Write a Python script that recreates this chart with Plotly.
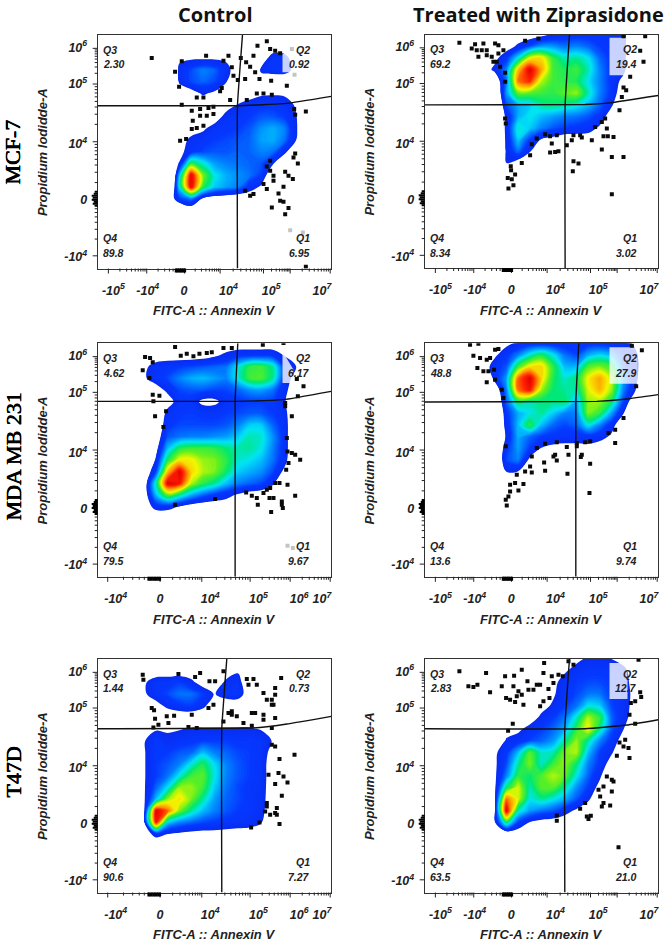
import plotly.graph_objects as go

_ = -10  # density below the plotted floor (outside the cell population)

# Channel scale of every plot: 0-700 on both axes.
grid_x = [105, 140, 175, 210, 245, 280, 315, 350, 385, 420, 455, 490, 525, 560, 595, 630, 665]
grid_y = [700, 665, 630, 595, 560, 525, 490, 455, 420, 385, 350, 315, 280, 245, 210, 175, 140]
E17 = [_] * 17

density_mcf7_control = [
    E17, E17,
    [_,_,_,_,-3,-2,-2,-2,-3,_,_,_,8,6,_,_,_],
    [_,_,_,-30,4,14,22,18,6,_,-30,3,10,10,-8,_,_],
    [_,_,_,-30,2,14,18,14,1,-20,_,-10,-20,-20,-10,_,_],
    [_,_,_,_,_,-8,2,-3,_,_,_,-3,-2,-3,_,_,_],
    [_,_,_,_,_,_,_,_,-8,1,8,10,10,8,-2,_,_],
    [_,_,_,_,_,_,_,-10,6,10,12,16,16,12,1,-20,_],
    [_,_,_,_,_,_,-3,7,10,12,16,24,28,22,2,-20,_],
    [_,_,_,_,_,5,8,12,14,16,18,26,28,20,0,-20,_],
    [_,_,_,_,-5,8,14,16,16,18,18,22,20,5,-20,_,_],
    [_,_,_,_,1,50,38,26,22,20,18,16,2,-20,_,_,_],
    [_,_,_,-60,30,100,58,36,28,24,20,12,-15,_,_,_,_],
    [_,_,_,-50,35,100,50,32,26,22,8,-2,-20,_,_,_,_],
    [_,_,_,-15,12,22,-1,-8,_,-12,-12,_,_,_,_,_,_],
    [_,_,_,_,-20,-12,_,_,_,_,_,_,_,_,_,_,_],
    E17,
]
density_mcf7_treated = [
    [_,_,_,_,_,_,_,-5,1,6,8,8,8,8,6,-20,_],
    [_,_,_,_,-8,3,15,25,25,20,22,18,12,8,6,-20,_],
    [_,_,_,-5,10,35,66,70,50,40,42,35,18,10,6,-20,_],
    [_,_,_,4,22,74,100,78,52,48,52,40,22,10,5,-20,_],
    [_,_,_,-15,20,84,92,62,52,50,48,35,22,10,-5,_,_],
    [_,_,_,-25,25,56,55,52,50,55,60,40,22,10,-12,_,_],
    [_,_,_,-30,15,28,32,42,45,42,38,30,18,3,-20,_,_],
    [_,_,_,-25,4,28,36,30,26,22,20,16,10,-10,_,_,_],
    [_,_,_,-30,5,38,32,22,16,12,10,8,-3,-20,_,_,_],
    [_,_,_,-25,3,32,12,-1,-5,_,_,_,_,_,_,_,_],
    [_,_,_,-25,2,20,1,_,_,_,_,_,_,_,_,_,_],
    [_,_,_,_,0,-8,_,_,_,_,_,_,_,_,_,_,_],
    E17, E17, E17, E17, E17,
]
density_mda_control = [
    E17,
    [_,_,_,_,_,_,-8,-3,3,8,9,9,8,-1,_,_,_],
    [_,-3,6,10,12,14,16,18,20,35,50,52,42,10,0,_,_],
    [_,-2,8,14,22,28,30,26,22,36,52,54,42,10,-8,_,_],
    [_,_,-8,4,14,16,16,14,14,18,24,26,20,6,-15,_,_],
    [_,_,_,-8,8,8,-4,-4,6,10,12,12,12,2,-20,_,_],
    [_,_,-20,6,10,12,10,10,12,14,16,16,12,6,-20,_,_],
    [_,_,-15,10,14,14,14,14,16,22,32,32,18,8,-20,_,_],
    [_,_,-10,16,20,22,22,24,26,32,40,38,24,8,-20,_,_],
    [_,_,-5,30,48,52,52,50,45,40,42,36,22,8,-20,_,_],
    [_,-30,3,48,68,68,60,58,50,38,35,30,20,6,-20,_,_],
    [_,-15,14,75,100,72,62,58,46,32,28,24,14,-4,_,_,_],
    [_,-10,40,100,95,62,50,42,30,22,18,14,2,-15,_,_,_],
    [_,-10,30,55,42,28,18,10,5,-2,-8,_,_,_,_,_,_],
    [_,-10,6,6,-1,-8,_,_,_,_,_,_,_,_,_,_,_],
    [_,_,-15,-15,_,_,_,_,_,_,_,_,_,_,_,_,_],
    E17,
]
density_mda_treated = [
    [_,_,_,_,-4,3,7,7,7,7,8,8,8,6,5,-2,_],
    [_,_,_,-3,10,22,38,48,36,20,14,28,34,28,14,3,_],
    [_,_,_,8,16,52,70,72,50,30,30,54,58,52,18,4,_],
    [_,_,-30,6,26,85,100,72,48,38,45,68,78,62,26,6,-20],
    [_,_,_,-15,22,84,95,60,45,42,40,65,76,60,22,2,-20],
    [_,_,_,-25,18,46,40,44,44,46,28,60,60,46,14,-15,_],
    [_,_,_,-30,10,28,36,42,32,22,22,58,50,26,1,-20,_],
    [_,_,_,-25,6,30,50,30,18,14,18,36,22,7,-15,_,_],
    [_,_,_,-30,3,28,18,12,10,8,8,8,6,-3,-20,_,_],
    [_,_,_,-25,10,26,12,-1,-5,-6,-6,-5,_,_,_,_,_],
    [_,_,_,-25,14,22,-4,_,_,_,_,_,_,_,_,_,_],
    [_,_,_,_,0,-1,_,_,_,_,_,_,_,_,_,_,_],
    E17, E17, E17, E17, E17,
]
density_t47d_control = [
    E17,
    [_,_,_,_,_,_,_,_,-8,-2,-2,_,_,_,_,_,_],
    [_,-2,8,9,12,4,-8,_,3,7,-15,_,_,_,_,_,_],
    [_,-2,8,14,20,20,12,-1,8,9,-10,_,_,_,_,_,_],
    [_,_,-6,4,10,12,4,_,-12,-12,_,_,_,_,_,_,_],
    [_,-12,-12,-12,-12,-12,-12,-12,-12,-12,-12,-12,_,_,_,_,_],
    [_,_,-2,-2,-1,2,2,2,2,2,2,-1,_,_,_,_,_],
    [_,-1,12,4,8,10,12,12,12,10,10,8,-1,-20,_,_,_],
    [_,-1,12,12,16,18,30,22,18,14,12,8,-6,_,_,_,_],
    [_,-1,12,16,22,36,48,34,22,16,12,8,_,_,_,_,_],
    [_,-1,12,20,36,52,55,36,22,16,12,8,-10,_,_,_,_],
    [_,-1,18,35,60,60,52,32,20,14,10,7,-10,_,_,_,_],
    [_,-1,30,60,70,58,42,26,18,14,10,6,-10,_,_,_,_],
    [_,-1,100,85,58,42,30,22,16,12,10,5,-12,_,_,_,_],
    [_,-1,95,32,22,18,14,12,10,8,6,1,-20,_,_,_,_],
    [_,-6,4,0,-3,-5,-6,-6,-7,-8,-8,_,_,_,_,_,_],
    E17,
]
density_t47d_treated = [
    [_,_,_,_,_,_,_,_,_,_,-4,3,3,0,_,_,_],
    [_,_,_,_,_,_,_,_,_,-2,6,10,10,10,8,-15,_],
    [_,_,_,_,_,_,_,_,-4,6,12,14,14,12,8,-8,_],
    [_,_,_,_,_,_,_,_,-2,8,14,20,20,12,8,-5,_],
    [_,_,_,_,_,_,_,-5,2,12,20,35,32,14,6,-5,_],
    [_,_,_,_,_,_,-8,3,12,20,38,62,50,18,6,-8,_],
    [_,_,_,_,_,-3,5,12,18,28,50,68,42,16,1,-20,_],
    [_,_,_,-30,3,6,14,18,25,42,60,42,22,10,-8,_,_],
    [_,_,_,-3,10,30,55,38,40,58,62,30,12,2,-15,_,_],
    [_,_,_,-3,15,42,58,38,52,60,45,22,10,-8,_,_,_],
    [_,_,_,-3,22,50,46,54,62,56,36,18,3,-20,_,_,_],
    [_,_,_,-3,45,65,40,55,55,42,24,12,-6,_,_,_,_],
    [_,_,_,-3,85,65,36,42,36,28,16,3,-15,_,_,_,_],
    [_,_,_,-2,100,40,26,20,16,6,-3,-12,_,_,_,_,_],
    [_,_,_,-2,45,12,-1,-6,-8,_,_,_,_,_,_,_,_],
    [_,_,_,_,-15,_,_,_,_,_,_,_,_,_,_,_,_],
    E17,
]

pts_mcf7_control_x = [162,232,244,252,252,325,392,377,402,407,420,429,445,457,479,507,467,517,532,547,442,472,485,520,567,372,367,397,317,297,447,477,497,522,589,624,592,282,307,332,347,285,307,327,347,282,297,317,247,265,592,587,600,517,507,517,527,562,572,585,497,507,527,557,542,457,467,442,522,547,557,572,562,624]
pts_mcf7_control_y = [631,590,545,621,491,638,638,623,603,578,565,631,618,605,668,681,638,658,653,645,568,588,568,563,548,541,531,505,513,513,505,525,525,521,478,471,461,473,478,481,485,443,458,458,463,418,421,428,383,388,345,333,315,323,306,293,278,290,278,268,253,238,263,245,225,218,223,233,183,203,200,181,163,5]
pts_mcf7_treated_x = [104,151,176,141,156,171,186,161,186,201,211,221,206,216,221,236,226,241,241,596,661,646,656,616,596,604,591,584,541,531,546,511,536,549,566,501,466,446,361,376,396,336,321,381,376,391,401,426,471,441,531,561,596,316,291,258,259,271,249,261,266,251,446,461,444,561,241,243,301,341]
pts_mcf7_treated_y = [675,671,673,658,653,653,653,633,638,633,673,668,618,618,643,653,603,585,558,695,695,651,618,573,541,533,513,473,448,438,418,423,395,395,393,383,398,398,401,395,398,388,371,373,346,348,350,368,391,383,355,333,333,338,315,305,293,280,270,266,248,238,320,313,290,221,448,433,681,688]
pts_mda_control_x = [142,157,165,135,155,232,249,267,287,305,327,342,377,402,495,557,617,597,600,165,185,167,172,205,197,582,562,562,567,569,582,592,607,572,565,532,545,569,517,592,445,462,477,497,507,527,515,552,552,555,480,520,352,232]
pts_mda_control_y = [659,656,643,619,596,689,663,669,661,669,671,673,686,686,696,701,571,593,541,546,543,526,481,496,449,481,511,521,416,376,371,366,351,341,321,281,281,276,266,243,253,243,236,251,261,236,236,226,216,206,216,194,233,216]
pts_mda_treated_x = [136,161,146,166,186,196,211,221,158,176,191,208,186,211,231,236,621,651,634,596,571,551,571,496,481,456,426,396,361,336,456,386,391,396,431,471,468,496,358,321,316,361,428,301,321,276,271,296,281,256,256,251,243,246,494,243]
pts_mda_treated_y = [696,699,663,656,651,656,681,683,626,616,616,621,583,591,561,536,693,679,571,476,441,431,401,406,403,401,389,403,399,386,391,361,366,349,366,366,359,339,343,361,331,318,309,316,313,306,281,278,259,276,256,241,231,214,251,391]
pts_t47d_control_x = [135,137,242,292,307,335,352,377,447,467,452,477,550,497,507,522,532,527,522,532,162,169,172,207,229,212,282,347,332,402,392,377,402,417,462,472,497,497,532,437,462,522,167,182,297,272,522,532,545,590,512,542,557,569,532,552,507,507,537,502,532,517,537,485,545,460]
pts_t47d_control_y = [653,638,655,646,658,633,633,663,640,640,623,623,643,598,578,578,593,563,563,613,553,546,521,528,530,508,533,563,553,543,538,513,533,528,538,538,533,518,523,508,500,493,495,503,493,496,443,438,400,413,353,358,348,330,325,290,268,258,253,243,238,233,233,210,205,195]
pts_t47d_treated_x = [104,184,131,146,158,196,241,268,291,358,356,381,401,414,231,266,281,291,308,311,326,336,346,371,386,244,256,271,296,276,356,374,346,264,250,446,431,641,646,649,631,618,614,631,601,584,596,611,576,614,546,561,566,536,561,521,526,536,556,531,481,466,486,491,498,396,396,581]
pts_t47d_treated_y = [663,658,618,616,623,600,648,650,668,688,658,648,653,648,618,618,603,593,633,608,608,623,623,610,628,583,578,571,563,588,573,583,558,506,485,683,693,698,600,586,573,568,533,506,458,450,438,433,410,403,348,338,333,318,303,308,288,268,261,258,268,251,228,220,230,231,215,136]

faint_mcf7_control_x = [577, 615, 582, 590]
faint_mcf7_control_y = [115, 108, 658, 581]
faint_mda_control_x = [569, 585, 597]
faint_mda_control_y = [93, 86, 593]

# Events piled on the axes (off-scale values)
pile_x_wide = [234, 238, 242, 246, 250, 254, 258, 262]
pile_x_narrow = [152, 157, 162, 167, 172, 177, 182, 187]
pile_y = [188, 194, 200, 206, 212, 218, 224, 230]
pile_y_px = [3, 5, 4, 6, 5, 6, 4, 3]

# Quadrant gates
gate_h_mcf7_control = ([0, 419, 567, 700], [488, 488, 495, 516])
gate_v_mcf7_control = ([419, 419, 434], [0, 488, 700])
gate_h_mcf7_treated = ([0, 481, 556, 700], [489, 490, 495, 517])
gate_v_mcf7_treated = ([421, 421, 434], [0, 488, 700])
gate_h_mda_control = ([0, 412, 557, 700], [526, 526, 531, 556])
gate_v_mda_control = ([412, 412, 420], [0, 526, 700])
gate_h_mda_treated = ([0, 516, 606, 700], [524, 526, 533, 546])
gate_v_mda_treated = ([453, 453, 462], [0, 524, 700])
gate_h_t47d_control = ([0, 477, 567, 700], [491, 494, 505, 528])
gate_v_t47d_control = ([372, 372, 387], [0, 491, 700])
gate_h_t47d_treated = ([0, 481, 606, 700], [491, 491, 502, 518])
gate_v_t47d_treated = ([420, 420, 434], [0, 491, 700])

# Pale label plates over the Q2 corner
plate_mcf7_control = ([554, 584, 584, 554], [588, 588, 643, 643])
plate_mcf7_treated = ([554, 616, 616, 554], [578, 578, 690, 690])
plate_mda_control = ([554, 580, 587, 554], [581, 581, 621, 676])
plate_mda_treated = ([554, 639, 639, 554], [579, 579, 688, 688])
plate_t47d_control = ([], [])
plate_t47d_treated = ([554, 608, 608, 554], [580, 580, 688, 688])

q3_values = ["2.30", "69.2", "4.62", "48.8", "1.44", "2.83"]
q2_values = ["0.92", "19.4", "6.17", "27.9", "0.73", "12.7"]
q4_values = ["89.8", "8.34", "79.5", "13.6", "90.6", "63.5"]
q1_values = ["6.95", "3.02", "9.67", "9.74", "7.27", "21.0"]

col_titles = ["Control", "Treated with Ziprasidone"]
row_titles = ["MCF-7", "MDA MB 231", "T47D"]

def sup(b):
    return f"<b><i>{b}</i></b>"

x_label_pos_wide = [47, 150, 259, 392, 520, 672]
x_label_txt_wide = ["-10<sup>5</sup>", "-10<sup>4</sup>", "0", "10<sup>4</sup>", "10<sup>5</sup>", "10<sup>7</sup>"]
x_marks_wide = [32, 147, 260, 367, 497, 577, 697]
x_label_pos_narrow = [54, 187, 337, 482, 604, 672]
x_label_txt_narrow = ["-10<sup>4</sup>", "0", "10<sup>4</sup>", "10<sup>5</sup>", "10<sup>6</sup>", "10<sup>7</sup>"]
x_marks_narrow = [30, 187, 312, 457, 577, 697]
y_label_pos = [663, 553, 373, 205, 35]
y_label_txt = ["10<sup>6</sup>", "10<sup>5</sup>", "10<sup>4</sup>", "0", "-10<sup>4</sup>"]
y_marks = [38, 205, 380, 553, 660]
decade_fractions = [0.301, 0.477, 0.602, 0.699, 0.778, 0.845, 0.903, 0.954]

def minor_marks(majors):
    out = []
    for a, b in zip(majors[:-1], majors[1:]):
        out += [a + (b - a) * f for f in decade_fractions]
    return [v for v in out if 0 <= v <= 700]

panels = [
    (density_mcf7_control, pts_mcf7_control_x, pts_mcf7_control_y, gate_h_mcf7_control, gate_v_mcf7_control, plate_mcf7_control, "wide", 97.7, 35.0, faint_mcf7_control_x, faint_mcf7_control_y),
    (density_mcf7_treated, pts_mcf7_treated_x, pts_mcf7_treated_y, gate_h_mcf7_treated, gate_v_mcf7_treated, plate_mcf7_treated, "wide", 424.7, 34.5, [], []),
    (density_mda_control, pts_mda_control_x, pts_mda_control_y, gate_h_mda_control, gate_v_mda_control, plate_mda_control, "narrow", 97.7, 343.3, faint_mda_control_x, faint_mda_control_y),
    (density_mda_treated, pts_mda_treated_x, pts_mda_treated_y, gate_h_mda_treated, gate_v_mda_treated, plate_mda_treated, "wide", 424.7, 343.3, [], []),
    (density_t47d_control, pts_t47d_control_x, pts_t47d_control_y, gate_h_t47d_control, gate_v_t47d_control, plate_t47d_control, "narrow", 97.7, 659.0, [], []),
    (density_t47d_treated, pts_t47d_treated_x, pts_t47d_treated_y, gate_h_t47d_treated, gate_v_t47d_treated, plate_t47d_treated, "wide", 424.7, 659.0, [], []),
]

W, H = 667, 945
PW, PH = 233.5, 233.5

# z -> colour, scale spans -0.5..100.5 on the contour levels
def f(z):
    return (z + 0.5) / 101
flow_scale = [
    [0, "#ffffff"], [f(-0.2), "#ffffff"], [f(0.0), "#0a2cf0"], [f(12), "#0538ff"],
    [f(24), "#0090ff"], [f(35), "#00e4f4"], [f(45), "#00e870"], [f(56), "#60f020"],
    [f(67), "#f4f800"], [f(80), "#ff9800"], [f(92), "#ff2000"], [1, "#e00000"],
]

fig = go.Figure()
layout = dict(
    width=W, height=H, autosize=False, margin=dict(l=0, r=0, t=0, b=0),
    paper_bgcolor="white", plot_bgcolor="white", showlegend=False,
)
annotations = []
shapes = []
BODY = dict(family="Liberation Sans", color="#222222")
INK = "#222222"

for i, (z, px, py, gh, gv, plate, scheme, left, top, fx, fy) in enumerate(panels):
    s = "" if i == 0 else str(i + 1)
    xa, ya = f"x{s}", f"y{s}"
    xd, yd = f"x{s} domain", f"y{s} domain"
    assert all(len(r) == 17 for r in z) and len(z) == 17
    fig.add_trace(go.Contour(
        x=grid_x, y=grid_y[::-1], z=z[::-1], xaxis=xa, yaxis=ya,
        colorscale=flow_scale, showscale=False, autocontour=False, hoverinfo="skip",
        contours=dict(start=0, end=100, size=1, coloring="fill", showlines=False),
        line=dict(width=0, smoothing=1.0),
    ))
    if plate[0]:
        fig.add_trace(go.Scatter(x=plate[0], y=plate[1], xaxis=xa, yaxis=ya, mode="lines",
                                 fill="toself", fillcolor="rgba(255,255,255,0.78)",
                                 line=dict(width=0), hoverinfo="skip"))
    if fx:
        fig.add_trace(go.Scatter(x=fx, y=fy, xaxis=xa, yaxis=ya, mode="markers",
                                 marker=dict(symbol="square", size=4, color="#c4c4c4"), hoverinfo="skip"))
    fig.add_trace(go.Scatter(x=px, y=py, xaxis=xa, yaxis=ya, mode="markers",
                             marker=dict(symbol="square", size=4, color="#0a0a0a"), hoverinfo="skip"))
    for g in (gh, gv):
        fig.add_trace(go.Scatter(x=g[0], y=g[1], xaxis=xa, yaxis=ya, mode="lines",
                                 line=dict(color="#111111", width=1.4, shape="spline", smoothing=0.3),
                                 hoverinfo="skip"))
    lab_pos = x_label_pos_wide if scheme == "wide" else x_label_pos_narrow
    lab_txt = x_label_txt_wide if scheme == "wide" else x_label_txt_narrow
    marks = x_marks_wide if scheme == "wide" else x_marks_narrow
    pile = pile_x_wide if scheme == "wide" else pile_x_narrow

    def xmark(v, px_len, width=1.0, color=INK):
        shapes.append(dict(type="line", xref=xa, yref=yd, x0=v, x1=v, y0=0, y1=-px_len / PH,
                           line=dict(color=color, width=width)))

    def ymark(v, px_len, width=1.0, color=INK):
        shapes.append(dict(type="line", xref=xd, yref=ya, y0=v, y1=v, x0=0, x1=-px_len / PW,
                           line=dict(color=color, width=width)))

    for v in marks:
        xmark(v, 5)
    for v in minor_marks(marks):
        xmark(v, 3)
    for v in y_marks:
        ymark(v, 5)
    for v in minor_marks(y_marks):
        ymark(v, 3)
    for v in pile:
        xmark(v, 4, 2.0, "#000000")
    for v, n in zip(pile_y, pile_y_px):
        ymark(v, n, 2.0, "#000000")

    common = dict(range=[0, 700], showgrid=False, zeroline=False, showline=True, mirror=True,
                  linecolor="#333333", linewidth=1, tickmode="array", ticks="outside",
                  tickcolor="rgba(0,0,0,0)", tickfont=dict(family="Liberation Sans", size=12.5, color=INK),
                  tickangle=0, fixedrange=True)
    layout[f"xaxis{s}"] = dict(common, domain=[left / W, (left + PW) / W], anchor=ya,
                               tickvals=lab_pos, ticktext=[sup(t) for t in lab_txt], ticklen=10)
    layout[f"yaxis{s}"] = dict(common, domain=[1 - (top + PH) / H, 1 - top / H], anchor=xa,
                               tickvals=y_label_pos, ticktext=[sup(t) for t in y_label_txt], ticklen=7)
    for txt, ax, ay, anc in [("Q3", 0.02, 0.937, "left"), (q3_values[i], 0.02, 0.874, "left"),
                             ("Q4", 0.02, 0.13, "left"), (q4_values[i], 0.02, 0.066, "left"),
                             ("Q2", 0.915, 0.937, "right"), (q2_values[i], 0.915, 0.874, "right"),
                             ("Q1", 0.915, 0.13, "right"), (q1_values[i], 0.915, 0.066, "right")]:
        annotations.append(dict(text=f"<b><i>{txt}</i></b>", xref=xd, yref=yd, x=ax, y=ay, xanchor=anc,
                                yanchor="middle", showarrow=False, font=dict(BODY, size=10.5), borderpad=0))
    annotations.append(dict(text="<b><i>FITC-A :: Annexin V</i></b>", xref=xd, yref=yd, x=0.5, y=-0.181,
                            xanchor="center", yanchor="middle", showarrow=False, font=dict(BODY, size=13)))
    annotations.append(dict(text="<b><i>Propidium Iodidde-A</i></b>", xref=xd, yref=yd, x=-0.237, y=0.5,
                            xanchor="center", yanchor="middle", showarrow=False, textangle=-90,
                            font=dict(BODY, size=13)))

for t, cx in zip(col_titles, [215, 538]):
    annotations.append(dict(text=f"<b>{t}</b>", xref="paper", yref="paper", x=cx / W, y=1 - 14 / H,
                            xanchor="center", yanchor="middle", showarrow=False, borderpad=0,
                            font=dict(family="Open Sans", size=20, color="#111111")))
for t, cy in zip(row_titles, [152, 457, 772]):
    annotations.append(dict(text=t, xref="paper", yref="paper", x=12.5 / W, y=1 - cy / H,
                            xanchor="center", yanchor="middle", showarrow=False, textangle=-90,
                            font=dict(family="Liberation Serif", size=22, color="#000000",
                                      shadow="0.4px 0 0 #000, -0.4px 0 0 #000")))

layout["annotations"] = annotations
layout["shapes"] = shapes
fig.update_layout(**layout)
fig.write_html("out.html", config=dict(displayModeBar=False),
               post_script="document.body.style.margin='0';document.body.style.overflow='hidden';")
